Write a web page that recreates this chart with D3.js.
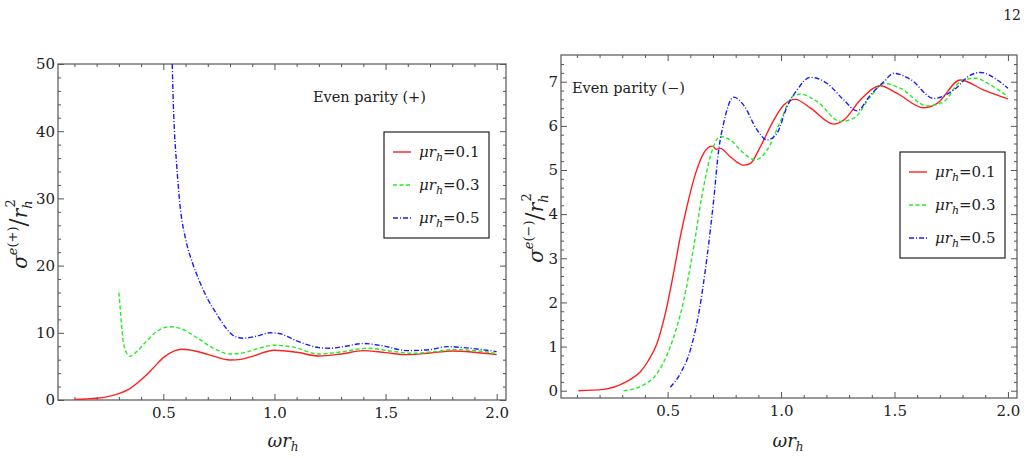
<!DOCTYPE html>
<html><head><meta charset="utf-8">
<script src="https://cdn.jsdelivr.net/npm/d3@7"></script>
<style>body{margin:0;background:#fff}svg{display:block}text{font-family:"DejaVu Serif",serif;fill:#222}</style>
</head><body>
<script>
// ---------- data ----------
const seriesNames = ["0.1", "0.3", "0.5"];
const xTickMajor = [0.5, 1.0, 1.5, 2.0];
const xTickMinor = [0.1,0.2,0.3,0.4,0.6,0.7,0.8,0.9,1.1,1.2,1.3,1.4,1.6,1.7,1.8,1.9];
const yTickMajorL = [0, 10, 20, 30, 40, 50];
const yTickMajorR = [0, 1, 2, 3, 4, 5, 6, 7];

// left panel: even parity (+)
const pX1 = [0.1,0.15,0.2,0.25,0.3,0.35,0.4,0.45,0.5,0.55,0.58,0.62,0.7,0.8,0.85,0.9,1.0,1.1,1.2,1.3,1.4,1.5,1.6,1.7,1.8,1.9,2.0];
const pY1 = [0.1,0.15,0.25,0.5,0.95,1.7,3.0,4.6,6.3,7.3,7.55,7.45,6.8,5.95,6.05,6.5,7.4,7.1,6.55,6.85,7.35,7.05,6.75,7.0,7.3,7.1,6.75];
const pX3 = [0.3,0.305,0.31,0.32,0.335,0.35,0.38,0.42,0.47,0.53,0.58,0.65,0.72,0.8,0.87,0.93,1.0,1.08,1.2,1.3,1.42,1.52,1.62,1.72,1.81,1.9,2.0];
const pY3 = [16.0,14.0,12.0,8.6,7.0,6.5,7.2,8.6,10.2,10.9,10.6,9.3,7.8,6.85,7.1,7.7,8.15,7.9,6.85,7.15,7.7,7.3,6.95,7.2,7.5,7.35,6.95];
const pX5 = [0.54,0.545,0.55,0.56,0.575,0.6,0.63,0.665,0.7,0.74,0.78,0.82,0.86,0.92,0.98,1.02,1.1,1.2,1.25,1.32,1.4,1.48,1.6,1.7,1.78,1.85,2.0];
const pY5 = [50,44,40,35,29,24,20.5,17.5,15,12.8,10.8,9.5,9.2,9.5,10.0,9.9,8.8,7.8,7.7,8.0,8.4,8.1,7.35,7.5,7.95,7.8,7.2];

// right panel: even parity (-)
const mX1 = [0.107,0.218,0.306,0.343,0.38,0.416,0.453,0.49,0.526,0.556,0.585,0.622,0.659,0.696,0.715,0.732,0.776,0.835,0.865,0.909,0.968,1.012,1.063,1.13,1.232,1.276,1.35,1.438,1.51,1.629,1.688,1.79,1.894,2.0];
const mY1 = [0.0,0.03,0.17,0.28,0.43,0.69,1.07,1.75,2.66,3.49,4.17,4.9,5.38,5.54,5.47,5.49,5.3,5.11,5.15,5.53,6.13,6.47,6.6,6.4,6.04,6.13,6.59,6.91,6.74,6.41,6.51,7.04,6.81,6.61];
const mX3 = [0.306,0.394,0.453,0.512,0.571,0.615,0.651,0.688,0.732,0.776,0.835,0.887,0.938,0.997,1.049,1.085,1.159,1.262,1.32,1.394,1.453,1.527,1.644,1.718,1.79,1.857,1.922,2.0];
const mY3 = [0.0,0.13,0.39,1.0,2.05,3.26,4.4,5.3,5.76,5.68,5.38,5.23,5.45,6.1,6.66,6.72,6.55,6.1,6.17,6.66,6.96,6.85,6.45,6.55,7.0,7.08,6.93,6.66];
const mX5 = [0.512,0.556,0.6,0.637,0.674,0.703,0.725,0.747,0.791,0.835,0.894,0.938,0.982,1.026,1.07,1.129,1.203,1.276,1.335,1.394,1.453,1.497,1.571,1.674,1.76,1.835,1.879,1.953,2.0];
const mY5 = [0.08,0.39,0.92,1.75,3.04,4.32,5.45,6.06,6.65,6.47,5.91,5.68,5.83,6.43,6.81,7.1,6.96,6.59,6.34,6.7,7.0,7.19,7.05,6.62,6.81,7.15,7.21,7.04,6.85];

// ---------- drawing ----------
const W = 1027, H = 458;
const FONT = '"DejaVu Serif",serif';
const svg = d3.select("body").append("svg").attr("width", W).attr("height", H);
const styles = [
  {color: "#ff2020", dash: null},
  {color: "#22ee22", dash: "4,2.5"},
  {color: "#1a1aff", dash: "5,2,1,2"}
];
const zip = (xs, ys) => xs.map((x, i) => [x, ys[i]]);

svg.append("text").attr("x", 1021).attr("y", 20).attr("text-anchor", "end")
  .style("font-size", "14px").text("12");

function panel(cfg) {
  const x = d3.scaleLinear().domain(cfg.xd).range([cfg.l, cfg.r]);
  const y = d3.scaleLinear().domain(cfg.yd).range([cfg.b, cfg.t]);
  const g = svg.append("g");
  const clipId = "clip" + cfg.id;
  svg.append("clipPath").attr("id", clipId).append("rect")
    .attr("x", cfg.l).attr("y", cfg.t).attr("width", cfg.r - cfg.l).attr("height", cfg.b - cfg.t);

  const fmtX = d3.format(".1f");
  const axes = [
    [d3.axisBottom(x).tickValues(xTickMajor).tickSize(-6).tickFormat(fmtX), `translate(0,${cfg.b})`],
    [d3.axisBottom(x).tickValues(xTickMinor).tickSize(-3).tickFormat(""), `translate(0,${cfg.b})`],
    [d3.axisTop(x).tickValues(xTickMajor).tickSize(-6).tickFormat(""), `translate(0,${cfg.t})`],
    [d3.axisTop(x).tickValues(xTickMinor).tickSize(-3).tickFormat(""), `translate(0,${cfg.t})`],
    [d3.axisLeft(y).tickValues(cfg.yMajor).tickSize(-6).tickFormat(d3.format("d")), `translate(${cfg.l},0)`],
    [d3.axisLeft(y).tickValues(cfg.yMinor).tickSize(-3).tickFormat(""), `translate(${cfg.l},0)`],
    [d3.axisRight(y).tickValues(cfg.yMajor).tickSize(-6).tickFormat(""), `translate(${cfg.r},0)`],
    [d3.axisRight(y).tickValues(cfg.yMinor).tickSize(-3).tickFormat(""), `translate(${cfg.r},0)`]
  ];
  axes.forEach(([ax, tr]) => {
    const a = g.append("g").attr("transform", tr).call(ax).attr("font-family", null).attr("font-size", null);
    a.select(".domain").remove();
    a.selectAll("line").attr("stroke", "#555");
    a.selectAll("text").style("font-size", "15px").style("font-family", FONT).attr("fill", "#222");
  });
  g.selectAll(".tick text").each(function() {
    const t = d3.select(this);
    if (t.attr("dy") === "0.71em") t.attr("y", 7);
    if (t.attr("x") === "-9") t.attr("x", -3);
  });
  g.append("rect").attr("x", cfg.l).attr("y", cfg.t).attr("width", cfg.r - cfg.l).attr("height", cfg.b - cfg.t)
    .attr("fill", "none").attr("stroke", "#555").attr("stroke-width", 1.2);

  const line = d3.line().x(d => x(d[0])).y(d => y(d[1])).curve(d3.curveMonotoneX);
  cfg.series.forEach((s, i) => {
    g.append("path").attr("d", line(s)).attr("clip-path", `url(#${clipId})`)
      .attr("fill", "none").attr("stroke", styles[i].color).attr("stroke-width", 1.4)
      .attr("stroke-dasharray", styles[i].dash);
  });

  // x label
  const xl = g.append("text").attr("x", cfg.xlx).attr("y", 447).attr("text-anchor", "middle").style("font-size", "18px");
  xl.append("tspan").style("font-style", "italic").text("ωr");
  xl.append("tspan").style("font-style", "italic").style("font-size", "12px").attr("dy", 4).text("h");

  // y label
  const yl = g.append("text").attr("transform", `translate(${cfg.ylx},${cfg.yly}) rotate(-90)`)
    .attr("text-anchor", "middle").style("font-size", "20px");
  yl.append("tspan").style("font-style", "italic").text("σ");
  yl.append("tspan").style("font-style", "italic").style("font-size", "13px").attr("dy", -10).text("e");
  yl.append("tspan").style("font-size", "13px").text(cfg.sign);
  yl.append("tspan").attr("dy", 10).style("font-size", "24px").text("/");
  yl.append("tspan").style("font-style", "italic").text("r");
  yl.append("tspan").style("font-style", "italic").style("font-size", "13px").attr("dy", 5).text("h");
  yl.append("tspan").style("font-size", "13px").attr("dx", -7).attr("dy", -17).text("2");

  // annotation
  g.append("text").attr("x", cfg.ax).attr("y", cfg.ay).style("font-size", "14.5px").text(cfg.annot);

  // legend
  const L = cfg.leg;
  g.append("rect").attr("x", L.x).attr("y", L.y).attr("width", L.w).attr("height", L.h)
    .attr("fill", "#fff").attr("stroke", "#222").attr("stroke-width", 1.2);
  seriesNames.forEach((n, i) => {
    const cy = L.y + 20 + i * 33;
    g.append("line").attr("x1", L.x + 9).attr("x2", L.x + 27).attr("y1", cy).attr("y2", cy)
      .attr("stroke", styles[i].color).attr("stroke-width", 1.4).attr("stroke-dasharray", styles[i].dash);
    const t = g.append("text").attr("x", L.x + 35).attr("y", cy + 5).style("font-size", "15px");
    t.append("tspan").style("font-style", "italic").text("μr");
    t.append("tspan").style("font-style", "italic").style("font-size", "11px").attr("dy", 4).text("h");
    t.append("tspan").attr("dy", -4).text("=" + n);
  });
}

panel({id: "L", l: 58, r: 506, t: 64, b: 400, xd: [0.026, 2.042], yd: [0, 50],
  yMajor: yTickMajorL, yMinor: d3.range(0, 50, 2).filter(v => v % 10 !== 0),
  series: [zip(pX1, pY1), zip(pX3, pY3), zip(pX5, pY5)],
  xlx: 283, ylx: 27, yly: 234, sign: "(+)", annot: "Even parity (+)", ax: 313, ay: 102,
  leg: {x: 384, y: 132, w: 105, h: 106}});

panel({id: "R", l: 561, r: 1017, t: 55, b: 398, xd: [0.03, 2.04], yd: [-0.165, 7.605],
  yMajor: yTickMajorR, yMinor: d3.range(0, 7.6, 0.2).filter(v => Math.abs(v - Math.round(v)) > 0.01),
  series: [zip(mX1, mY1), zip(mX3, mY3), zip(mX5, mY5)],
  xlx: 788, ylx: 543, yly: 228, sign: "(−)", annot: "Even parity (−)", ax: 572, ay: 93,
  leg: {x: 900, y: 152, w: 105, h: 106}});
</script>
</body></html>
